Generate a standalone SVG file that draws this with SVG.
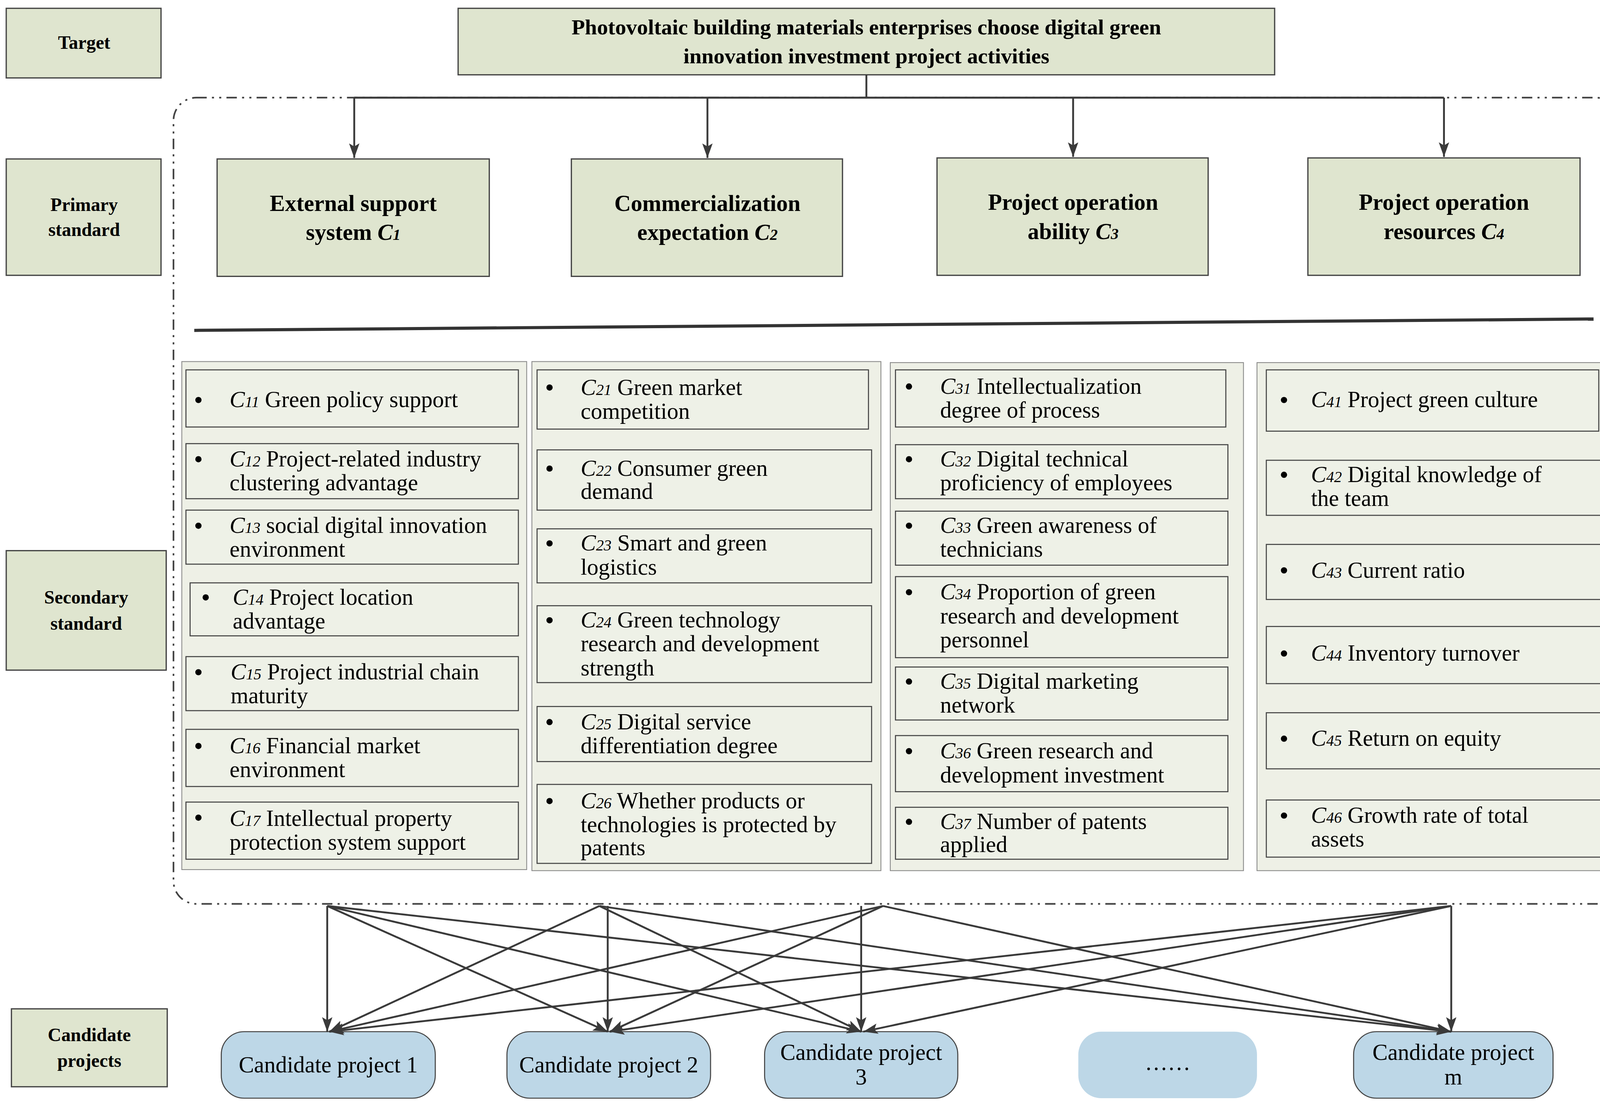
<svg xmlns="http://www.w3.org/2000/svg" width="4170" height="2831" viewBox="0 0 4170 2831">
<style>
.lab{fill:#dfe5cf;stroke:#444;stroke-width:1.2}
.pri{fill:#dfe5cf;stroke:#444;stroke-width:1.2}
.pan{fill:#eef0e6;stroke:#888;stroke-width:0.8}
.it{fill:#eef1e7;stroke:#444;stroke-width:1}
.cand{fill:#bdd7e7;stroke:#444;stroke-width:1}
.b{font-family:"Liberation Serif",serif;font-weight:bold;fill:#000}
.t{font-family:"Liberation Serif",serif;font-size:22px;fill:#000}
.s{font-style:italic;font-size:15px}
.i{font-style:italic}
.con line,.con path{stroke:#3a3a3a;stroke-width:1.8;fill:none}
</style>
<defs>
<marker id="a" viewBox="0 0 14 10" refX="14" refY="5" markerWidth="14" markerHeight="10" markerUnits="userSpaceOnUse" orient="auto"><path d="M0,0 L14,5 L0,10 L3,5 z" fill="#3a3a3a"/></marker>
</defs>
<rect width="4170" height="2831" fill="#fff"/>
<g transform="scale(2.6594)">
<g id="labels">
<g id="lab-target"><rect class="lab" x="6" y="8" width="149" height="67"/><text class="b" x="81" y="47" font-size="18" text-anchor="middle">Target</text></g>
<g id="lab-primary"><rect class="lab" x="6" y="153" width="149" height="112"/><text class="b" x="81" y="203" font-size="18" text-anchor="middle">Primary</text><text class="b" x="81" y="227" font-size="18" text-anchor="middle">standard</text></g>
<g id="lab-secondary"><rect class="lab" x="6" y="530" width="154" height="115"/><text class="b" x="83" y="581" font-size="18" text-anchor="middle">Secondary</text><text class="b" x="83" y="606" font-size="18" text-anchor="middle">standard</text></g>
<g id="lab-candidate"><rect class="lab" x="11" y="971" width="150" height="75"/><text class="b" x="86" y="1002" font-size="18" text-anchor="middle">Candidate</text><text class="b" x="86" y="1027" font-size="18" text-anchor="middle">projects</text></g>
</g>
<g id="goal"><rect class="pri" x="441" y="8" width="786" height="64"/><text class="b" x="834" y="33" font-size="21" text-anchor="middle">Photovoltaic building materials enterprises choose digital green</text><text class="b" x="834" y="61" font-size="21" text-anchor="middle">innovation investment project activities</text></g>
<rect x="167" y="94" width="1391" height="776" rx="22" fill="none" stroke="#444" stroke-width="1.6" stroke-dasharray="10,5,2,5,2,5"/>
<g id="c1"><rect class="pri" x="209" y="153" width="262" height="113"/><text class="b" x="340" y="203" font-size="22" text-anchor="middle">External support</text><text class="b" x="340" y="231" font-size="22" text-anchor="middle">system <tspan class="i">C</tspan><tspan class="i" font-size="15">1</tspan></text></g>
<g id="c2"><rect class="pri" x="550" y="153" width="261" height="113"/><text class="b" x="681" y="203" font-size="22" text-anchor="middle">Commercialization</text><text class="b" x="681" y="231" font-size="22" text-anchor="middle">expectation <tspan class="i">C</tspan><tspan class="i" font-size="15">2</tspan></text></g>
<g id="c3"><rect class="pri" x="902" y="152" width="261" height="113"/><text class="b" x="1033" y="202" font-size="22" text-anchor="middle">Project operation</text><text class="b" x="1033" y="230" font-size="22" text-anchor="middle">ability <tspan class="i">C</tspan><tspan class="i" font-size="15">3</tspan></text></g>
<g id="c4"><rect class="pri" x="1259" y="152" width="262" height="113"/><text class="b" x="1390" y="202" font-size="22" text-anchor="middle">Project operation</text><text class="b" x="1390" y="230" font-size="22" text-anchor="middle">resources <tspan class="i">C</tspan><tspan class="i" font-size="15">4</tspan></text></g>
<line x1="187" y1="318" x2="1534" y2="307" stroke="#333" stroke-width="3"/>
<rect class="pan" x="175" y="348" width="332" height="489"/>
<rect class="pan" x="512" y="348" width="336" height="490"/>
<rect class="pan" x="857" y="349" width="340" height="489"/>
<rect class="pan" x="1210" y="349" width="340" height="489"/>
<g id="col1">
<g id="c11"><rect class="it" x="179" y="356" width="320" height="55"/><circle cx="191" cy="385" r="3"/><text class="t" x="221" y="392"><tspan class="i">C</tspan><tspan class="s">11</tspan> Green policy support</text></g>
<g id="c12"><rect class="it" x="179" y="427" width="320" height="53"/><circle cx="191" cy="442" r="3"/><text class="t" x="221" y="449"><tspan class="i">C</tspan><tspan class="s">12</tspan> Project-related industry</text><text class="t" x="221" y="472">clustering advantage</text></g>
<g id="c13"><rect class="it" x="179" y="491" width="320" height="52"/><circle cx="191" cy="506" r="3"/><text class="t" x="221" y="513"><tspan class="i">C</tspan><tspan class="s">13</tspan> social digital innovation</text><text class="t" x="221" y="536">environment</text></g>
<g id="c14"><rect class="it" x="183" y="561" width="316" height="51"/><circle cx="198" cy="575" r="3"/><text class="t" x="224" y="582"><tspan class="i">C</tspan><tspan class="s">14</tspan> Project location</text><text class="t" x="224" y="605">advantage</text></g>
<g id="c15"><rect class="it" x="179" y="632" width="320" height="52"/><circle cx="191" cy="647" r="3"/><text class="t" x="222" y="654"><tspan class="i">C</tspan><tspan class="s">15</tspan> Project industrial chain</text><text class="t" x="222" y="677">maturity</text></g>
<g id="c16"><rect class="it" x="179" y="702" width="320" height="55"/><circle cx="191" cy="718" r="3"/><text class="t" x="221" y="725"><tspan class="i">C</tspan><tspan class="s">16</tspan> Financial market</text><text class="t" x="221" y="748">environment</text></g>
<g id="c17"><rect class="it" x="179" y="772" width="320" height="55"/><circle cx="191" cy="787" r="3"/><text class="t" x="221" y="795"><tspan class="i">C</tspan><tspan class="s">17</tspan>  Intellectual property</text><text class="t" x="221" y="818">protection system support</text></g>
</g>
<g id="col2">
<g id="c21"><rect class="it" x="517" y="356" width="319" height="57"/><circle cx="529" cy="373" r="3"/><text class="t" x="559" y="380"><tspan class="i">C</tspan><tspan class="s">21</tspan> Green market</text><text class="t" x="559" y="403">competition</text></g>
<g id="c22"><rect class="it" x="517" y="433" width="322" height="58"/><circle cx="529" cy="451" r="3"/><text class="t" x="559" y="458"><tspan class="i">C</tspan><tspan class="s">22</tspan> Consumer green</text><text class="t" x="559" y="480">demand</text></g>
<g id="c23"><rect class="it" x="517" y="509" width="322" height="52"/><circle cx="529" cy="523" r="3"/><text class="t" x="559" y="530"><tspan class="i">C</tspan><tspan class="s">23</tspan> Smart and green</text><text class="t" x="559" y="553">logistics</text></g>
<g id="c24"><rect class="it" x="517" y="583" width="322" height="74"/><circle cx="529" cy="597" r="3"/><text class="t" x="559" y="604"><tspan class="i">C</tspan><tspan class="s">24</tspan> Green technology</text><text class="t" x="559" y="627">research and development</text><text class="t" x="559" y="650">strength</text></g>
<g id="c25"><rect class="it" x="517" y="680" width="322" height="53"/><circle cx="529" cy="695" r="3"/><text class="t" x="559" y="702"><tspan class="i">C</tspan><tspan class="s">25</tspan> Digital service</text><text class="t" x="559" y="725">differentiation degree</text></g>
<g id="c26"><rect class="it" x="517" y="755" width="322" height="76"/><circle cx="529" cy="771" r="3"/><text class="t" x="559" y="778"><tspan class="i">C</tspan><tspan class="s">26</tspan> Whether products or</text><text class="t" x="559" y="801">technologies is protected by</text><text class="t" x="559" y="823">patents</text></g>
</g>
<g id="col3">
<g id="c31"><rect class="it" x="862" y="356" width="318" height="55"/><circle cx="875" cy="372" r="3"/><text class="t" x="905" y="379"><tspan class="i">C</tspan><tspan class="s">31</tspan> Intellectualization</text><text class="t" x="905" y="402">degree of process</text></g>
<g id="c32"><rect class="it" x="862" y="428" width="320" height="52"/><circle cx="875" cy="442" r="3"/><text class="t" x="905" y="449"><tspan class="i">C</tspan><tspan class="s">32</tspan> Digital technical</text><text class="t" x="905" y="472">proficiency of employees</text></g>
<g id="c33"><rect class="it" x="862" y="492" width="320" height="52"/><circle cx="875" cy="506" r="3"/><text class="t" x="905" y="513"><tspan class="i">C</tspan><tspan class="s">33</tspan> Green awareness of</text><text class="t" x="905" y="536">technicians</text></g>
<g id="c34"><rect class="it" x="862" y="555" width="320" height="78"/><circle cx="875" cy="570" r="3"/><text class="t" x="905" y="577"><tspan class="i">C</tspan><tspan class="s">34</tspan> Proportion of green</text><text class="t" x="905" y="600">research and development</text><text class="t" x="905" y="623">personnel</text></g>
<g id="c35"><rect class="it" x="862" y="642" width="320" height="51"/><circle cx="875" cy="656" r="3"/><text class="t" x="905" y="663"><tspan class="i">C</tspan><tspan class="s">35</tspan> Digital marketing</text><text class="t" x="905" y="686">network</text></g>
<g id="c36"><rect class="it" x="862" y="708" width="320" height="54"/><circle cx="875" cy="723" r="3"/><text class="t" x="905" y="730"><tspan class="i">C</tspan><tspan class="s">36</tspan> Green research and</text><text class="t" x="905" y="753">development investment</text></g>
<g id="c37"><rect class="it" x="862" y="777" width="320" height="50"/><circle cx="875" cy="791" r="3"/><text class="t" x="905" y="798"><tspan class="i">C</tspan><tspan class="s">37</tspan>  Number of patents</text><text class="t" x="905" y="820">applied</text></g>
</g>
<g id="col4">
<g id="c41"><rect class="it" x="1219" y="356" width="320" height="59"/><circle cx="1236" cy="385" r="3"/><text class="t" x="1262" y="392"><tspan class="i">C</tspan><tspan class="s">41</tspan> Project green culture</text></g>
<g id="c42"><rect class="it" x="1219" y="443" width="322" height="53"/><circle cx="1236" cy="457" r="3"/><text class="t" x="1262" y="464"><tspan class="i">C</tspan><tspan class="s">42</tspan> Digital knowledge of</text><text class="t" x="1262" y="487">the team</text></g>
<g id="c43"><rect class="it" x="1219" y="524" width="322" height="53"/><circle cx="1236" cy="549" r="3"/><text class="t" x="1262" y="556"><tspan class="i">C</tspan><tspan class="s">43</tspan> Current ratio</text></g>
<g id="c44"><rect class="it" x="1219" y="603" width="322" height="55"/><circle cx="1236" cy="629" r="3"/><text class="t" x="1262" y="636"><tspan class="i">C</tspan><tspan class="s">44</tspan> Inventory turnover</text></g>
<g id="c45"><rect class="it" x="1219" y="686" width="322" height="54"/><circle cx="1236" cy="711" r="3"/><text class="t" x="1262" y="718"><tspan class="i">C</tspan><tspan class="s">45</tspan> Return on equity</text></g>
<g id="c46"><rect class="it" x="1219" y="770" width="322" height="55"/><circle cx="1236" cy="785" r="3"/><text class="t" x="1262" y="792"><tspan class="i">C</tspan><tspan class="s">46</tspan> Growth rate of total</text><text class="t" x="1262" y="815">assets</text></g>
</g>
<g id="candidates">
<g id="p1"><rect class="cand" x="213" y="993" width="206" height="64" rx="22"/><text class="t" x="316" y="1032" font-size="20" text-anchor="middle">Candidate project 1</text></g>
<g id="p2"><rect class="cand" x="488" y="993" width="196" height="64" rx="22"/><text class="t" x="586" y="1032" font-size="20" text-anchor="middle">Candidate project 2</text></g>
<g id="p3"><rect class="cand" x="736" y="993" width="186" height="64" rx="22"/><text class="t" x="829" y="1020" font-size="20" text-anchor="middle">Candidate project</text><text class="t" x="829" y="1044" font-size="20" text-anchor="middle">3</text></g>
<g id="pd"><rect x="1038" y="993" width="172" height="64" rx="22" fill="#bdd7e7"/><text class="t" x="1124" y="1030" font-size="20" text-anchor="middle">……</text></g>
<g id="pm"><rect class="cand" x="1303" y="993" width="192" height="64" rx="22"/><text class="t" x="1399" y="1020" font-size="20" text-anchor="middle">Candidate project</text><text class="t" x="1399" y="1044" font-size="20" text-anchor="middle">m</text></g>
</g>
<g class="con">
<path d="M834,72 V94 M341,94 H1390"/>
<line x1="341" y1="94" x2="341" y2="152" marker-end="url(#a)"/>
<line x1="681" y1="94" x2="681" y2="152" marker-end="url(#a)"/>
<line x1="1033" y1="94" x2="1033" y2="151" marker-end="url(#a)"/>
<line x1="1390" y1="94" x2="1390" y2="151" marker-end="url(#a)"/>
<line x1="315" y1="872" x2="315" y2="993" marker-end="url(#a)"/>
<line x1="315" y1="872" x2="585" y2="993" marker-end="url(#a)"/>
<line x1="315" y1="872" x2="829" y2="993" marker-end="url(#a)"/>
<line x1="315" y1="872" x2="1397" y2="993" marker-end="url(#a)"/>
<line x1="577" y1="872" x2="317" y2="993" marker-end="url(#a)"/>
<line x1="585" y1="872" x2="585" y2="993" marker-end="url(#a)"/>
<line x1="577" y1="872" x2="829" y2="993" marker-end="url(#a)"/>
<line x1="577" y1="872" x2="1397" y2="993" marker-end="url(#a)"/>
<line x1="850" y1="872" x2="317" y2="993" marker-end="url(#a)"/>
<line x1="850" y1="872" x2="587" y2="993" marker-end="url(#a)"/>
<line x1="829" y1="872" x2="829" y2="993" marker-end="url(#a)"/>
<line x1="850" y1="872" x2="1397" y2="993" marker-end="url(#a)"/>
<line x1="1397" y1="872" x2="317" y2="993" marker-end="url(#a)"/>
<line x1="1397" y1="872" x2="587" y2="993" marker-end="url(#a)"/>
<line x1="1397" y1="872" x2="831" y2="993" marker-end="url(#a)"/>
<line x1="1397" y1="872" x2="1397" y2="993" marker-end="url(#a)"/>
</g>
</g>
</svg>
